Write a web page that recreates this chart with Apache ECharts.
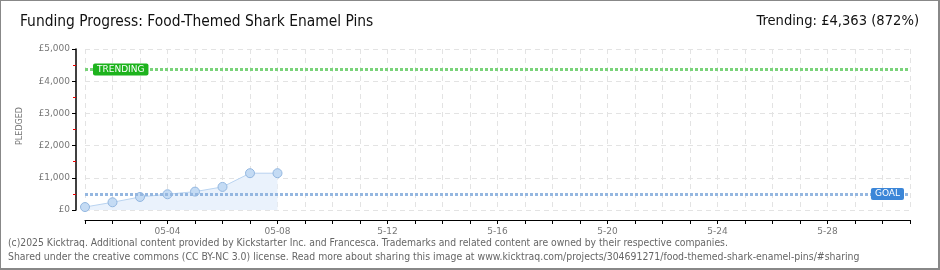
<!DOCTYPE html>
<html><head><meta charset="utf-8">
<script src="https://cdn.jsdelivr.net/npm/echarts@6/dist/echarts.min.js"></script>
<style>
html,body{margin:0;padding:0;background:#fff;}
#wrap{position:relative;width:940px;height:270px;}
#chart{position:absolute;left:0;top:0;width:940px;height:270px;}
#border{position:absolute;left:0;top:0;width:940px;height:270px;box-sizing:border-box;border-left:1px solid #888;border-top:1px solid #888;border-right:2px solid #888;border-bottom:2px solid #888;pointer-events:none;}
</style></head>
<body><div id="wrap"><div id="chart"></div><div id="border"></div></div>
<script>
const titleText = 'Funding Progress: Food-Themed Shark Enamel Pins';
const trendText = 'Trending: £4,363 (872%)';
const footer1 = '(c)2025 Kicktraq. Additional content provided by Kickstarter Inc. and Francesca. Trademarks and related content are owned by their respective companies.';
const footer2 = 'Shared under the creative commons (CC BY-NC 3.0) license. Read more about sharing this image at www.kicktraq.com/projects/304691271/food-themed-shark-enamel-pins/#sharing';
const categories = ['05-01','05-02','05-03','05-04','05-05','05-06','05-07','05-08','05-09','5-10','5-11','5-12','5-13','5-14','5-15','5-16','5-17','5-18','5-19','5-20','5-21','5-22','5-23','5-24','5-25','5-26','5-27','5-28','5-29','5-30','5-31'];
const pledged = [92, 240, 405, 489, 571, 717, 1143, 1143];
const goal = 500;
const trending = 4363;
const yTicks = [0, 1000, 2000, 3000, 4000, 5000];
const yLabels = ['£0', '£1,000', '£2,000', '£3,000', '£4,000', '£5,000'];

const chart = echarts.init(document.getElementById('chart'), null, {renderer: 'canvas'});
const pix = 'DejaVu Sans';
const cond = '"DejaVu Sans Condensed", "Liberation Sans Narrow", sans-serif';
chart.setOption({
  animation: false,
  grid: {left: 85, right: 30, top: 49, bottom: 60},
  graphic: [
    {type: 'text', left: 20, top: 14, style: {text: titleText, font: '15.4px ' + cond, fill: '#111'}},
    {type: 'text', right: 21, top: 14, style: {text: trendText, font: '14.6px ' + cond, fill: '#111'}},
    {type: 'text', left: 8, top: 238, style: {text: footer1, font: '10.3px ' + cond, fill: '#666'}},
    {type: 'text', left: 8, top: 252, style: {text: footer2, font: '10.4px ' + cond, fill: '#666'}},
    {type: 'text', x: 20, y: 126, rotation: Math.PI / 2, style: {text: 'PLEDGED', font: '8px ' + pix, fill: '#777', align: 'center', verticalAlign: 'middle'}}
  ],
  xAxis: {
    type: 'category', data: categories, boundaryGap: false, offset: 10,
    axisLine: {show: true, onZero: false, lineStyle: {color: '#000', width: 1}},
    axisTick: {show: true, length: 4, interval: 0, lineStyle: {color: '#000'}},
    axisLabel: {interval: (i) => i % 4 === 3, color: '#777', fontFamily: pix, fontSize: 9, margin: 7},
    splitLine: {show: true, interval: 0, lineStyle: {color: '#e3e3e3', type: [5, 4]}}
  },
  yAxis: {
    type: 'value', min: 0, max: 5000, interval: 1000, offset: 9,
    axisLine: {show: true, onZero: false, lineStyle: {color: '#000', width: 1.5}},
    axisTick: {show: true, length: 4, lineStyle: {color: '#000'}},
    minorTick: {show: true, splitNumber: 2, length: 3, lineStyle: {color: '#e00'}},
    axisLabel: {color: '#777', fontFamily: pix, fontSize: 9, margin: 6,
      formatter: (v) => yLabels[yTicks.indexOf(v)]},
    splitLine: {show: true, lineStyle: {color: '#e3e3e3', type: [5, 4]}}
  },
  series: [{
    type: 'line', data: pledged,
    symbol: 'circle', symbolSize: 9,
    itemStyle: {color: '#c4dbf4', borderColor: '#93b7e0', borderWidth: 1},
    lineStyle: {color: '#b9d3f0', width: 1},
    areaStyle: {color: '#eaf2fc', opacity: 1},
    markLine: {
      silent: true, symbol: 'none',
      data: [
        {yAxis: goal, lineStyle: {color: '#95b7e0', width: 3, type: [3, 2]},
         label: {show: true, formatter: 'GOAL', position: 'insideEnd', distance: 6, color: '#fff', backgroundColor: '#3b86d8', padding: [2, 4, 1, 4], borderRadius: 2, fontFamily: pix, fontSize: 9}},
        {yAxis: trending, lineStyle: {color: '#7ad37a', width: 3, type: [3, 2]},
         label: {show: true, formatter: 'TRENDING', position: 'insideStart', distance: 8, color: '#fff', backgroundColor: '#1db31d', padding: [2, 4, 1, 4], borderRadius: 2, fontFamily: pix, fontSize: 9}}
      ]
    }
  }]
});
</script></body></html>
